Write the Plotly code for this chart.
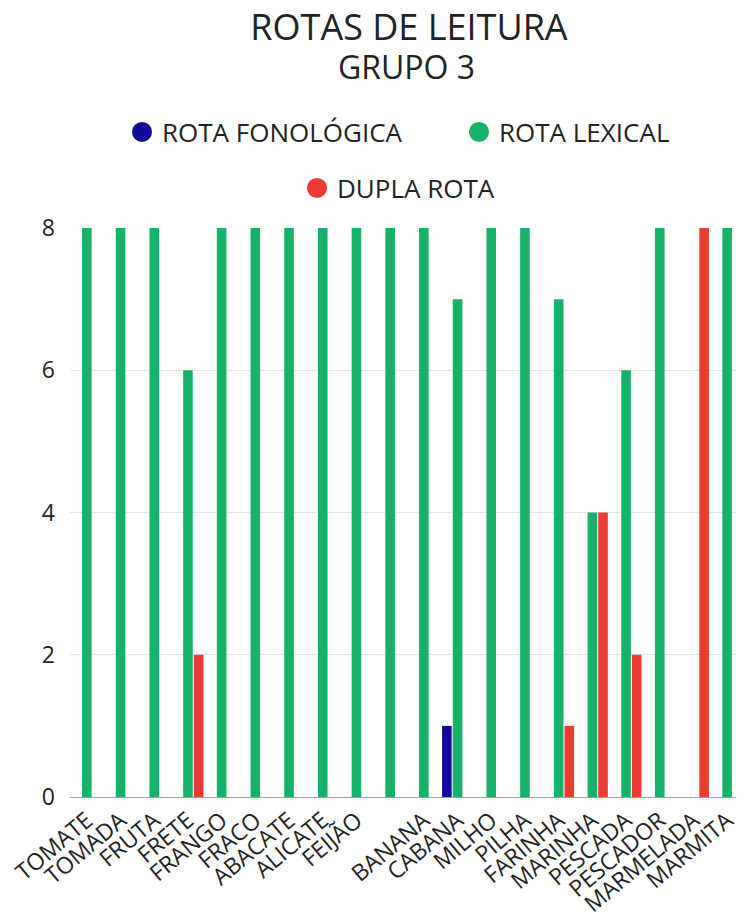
import plotly.graph_objects as go

categorias = ["TOMATE", "TOMADA", "FRUTA", "FRETE", "FRANGO", "FRACO", "ABACATE",
              "ALICATE", "FEIJÃO", "", "BANANA", "CABANA", "MILHO", "PILHA",
              "FARINHA", "MARINHA", "PESCADA", "PESCADOR", "MARMELADA", "MARMITA"]

rota_fonologica = [0, 0, 0, 0, 0, 0, 0, 0, 0, 0, 0, 1, 0, 0, 0, 0, 0, 0, 0, 0]
rota_lexical    = [8, 8, 8, 6, 8, 8, 8, 8, 8, 8, 8, 7, 8, 8, 7, 4, 6, 8, 0, 8]
dupla_rota      = [0, 0, 0, 2, 0, 0, 0, 0, 0, 0, 0, 0, 0, 0, 1, 4, 2, 0, 8, 0]

series = [
    ("ROTA FONOLÓGICA", rota_fonologica, "#120a98", "legend"),
    ("ROTA LEXICAL", rota_lexical, "#17b26a", "legend"),
    ("DUPLA ROTA", dupla_rota, "#ea3b35", "legend2"),
]

x_idx = list(range(len(categorias)))

W, H = 736, 914  # page body adds 8px offset
OFF = 8

def cy(page_y):
    return 1 - (page_y - OFF) / H

def cx(page_x):
    return (page_x - OFF) / W

fig = go.Figure()
for nome, vals, cor, _ in series:
    fig.add_trace(go.Bar(x=x_idx, y=vals, name=nome, marker_color=cor,
                         marker_line_width=0, showlegend=False))
for nome, vals, cor, leg in series:
    fig.add_trace(go.Scatter(x=[None], y=[None], mode="markers", name=nome,
                             marker=dict(color=cor, size=16, symbol="circle",
                                         line=dict(color=cor, width=4)),
                             legend=leg, showlegend=True))

FONT = "Open Sans"
fig.update_layout(
    width=W, height=H,
    paper_bgcolor="white", plot_bgcolor="white",
    font=dict(family=FONT, color="#222222"),
    margin=dict(l=62, r=0, t=220, b=125, autoexpand=False),
    barmode="group", bargap=0.05, bargroupgap=0.1,
    title=dict(
        text="ROTAS DE LEITURA",
        x=cx(409), xref="container", xanchor="center",
        y=cy(27), yref="container", yanchor="middle",
        font=dict(family=FONT, size=36, color="#222222"),
    ),
    annotations=[dict(
        text="GRUPO 3", showarrow=False,
        xref="paper", yref="paper",
        x=(406 - OFF - 62) / (W - 62), xanchor="center",
        y=1 + (228 - 67) / 569, yanchor="middle",
        font=dict(family=FONT, size=32, color="#222222"),
    )],
    legend=dict(orientation="h", xref="container", yref="container",
                x=cx(122), xanchor="left",
                y=cy(132), yanchor="middle", entrywidth=292, entrywidthmode="pixels",
                itemsizing="trace",
                font=dict(family=FONT, size=26, color="#222222")),
    legend2=dict(orientation="h", xref="container", yref="container",
                 x=cx(297), xanchor="left",
                 y=cy(188), yanchor="middle", itemsizing="trace",
                 font=dict(family=FONT, size=26, color="#222222")),
    xaxis=dict(tickmode="array", tickvals=x_idx, ticktext=categorias,
               tickangle=-40, tickfont=dict(family=FONT, size=23, color="#222222"),
               automargin=False, ticklabeloverflow="allow",
               showgrid=False, showline=True, linecolor="#a0a0a0", linewidth=1,
               range=[-0.5, len(categorias) - 0.5], zeroline=False),
    yaxis=dict(range=[0, 8], dtick=2, tickfont=dict(family=FONT, size=23, color="#222222"),
               automargin=False,
               showgrid=True, gridcolor="#e6e6e6", gridwidth=1, zeroline=False,
               ticklabelstandoff=14),
)

fig.write_html("out.html")
